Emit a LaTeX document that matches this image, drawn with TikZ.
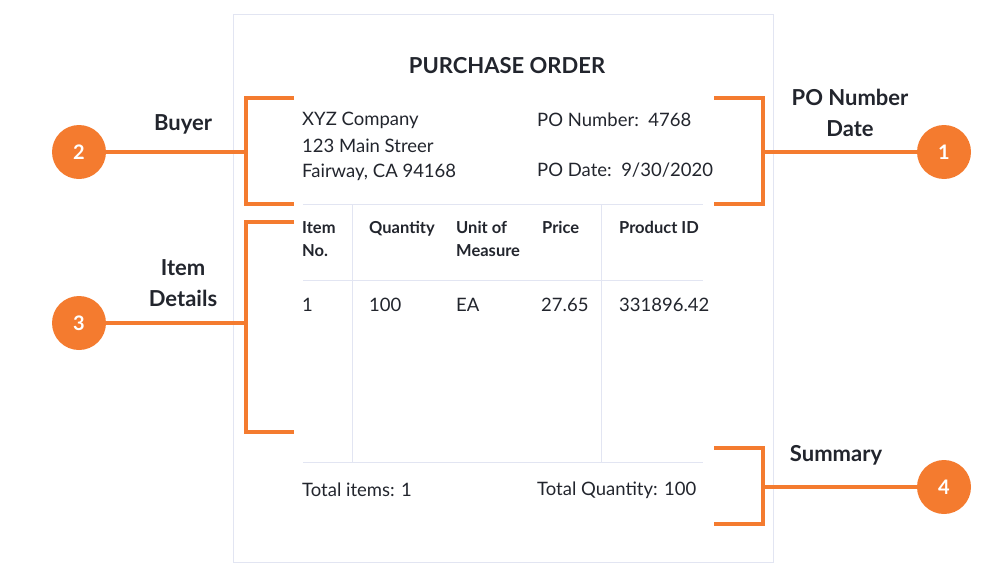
\documentclass[tikz,border=0pt]{standalone}
\usepackage{fontspec}
\setmainfont{Lato}
\definecolor{org}{HTML}{F47B2F}
\definecolor{pg}{HTML}{E2E5F2}
\definecolor{txt}{HTML}{22252D}
\begin{document}
\begin{tikzpicture}[x=1pt,y=-1pt,
  t/.style={anchor=west,inner sep=0pt,text=txt,font=\fontsize{18.5}{23}\selectfont},
  hd/.style={anchor=north west,inner sep=0pt,text=txt,align=left,font=\fontsize{16.5}{23}\selectfont\bfseries},
  lab/.style={inner sep=0pt,text=txt,align=center,font=\fontsize{22}{31}\selectfont\bfseries},
  br/.style={draw=org,line width=4pt},
  num/.style={circle,fill=org,minimum size=54pt,inner sep=0pt,text=white,font=\fontsize{20}{24}\selectfont\bfseries},
  gl/.style={draw=pg,line width=1pt}]
\useasboundingbox (0,0) rectangle (1000,570);
\draw[gl] (233,14) rectangle (773,562);
\node[inner sep=0pt,text=txt,font=\fontsize{22}{26}\selectfont\bfseries] (title) at (507,66) {PURCHASE ORDER};
\node[t] (b1) at (302,120) {XYZ Company};
\node[t] (b2) at (302,146) {123 Main Streer};
\node[t] (b3) at (302,172) {Fairway, CA 94168};
\node[t] (pn) at (537,120) {PO Number:\ \ 4768};
\node[t] (pd) at (537,170) {PO Date:\ \ 9/30/2020};
\draw[gl] (303,204) -- (703,204);
\draw[gl] (303,280) -- (703,280);
\draw[gl] (303,462) -- (703,462);
\draw[gl] (352,204) -- (352,462);
\draw[gl] (601,204) -- (601,462);
\node[hd] (h1) at (302,221) {Item\\No.};
\node[hd] (h2) at (369,221) {Quantity};
\node[hd] (h3) at (456,221) {Unit of\\Measure};
\node[hd] (h4) at (542,221) {Price};
\node[hd] (h5) at (619,221) {Product ID};
\node[t] (r1) at (302,305) {1};
\node[t] (r2) at (369,305) {100};
\node[t] (r3) at (456,305) {EA};
\node[t] (r4) at (541,305) {27.65};
\node[t] (r5) at (619,305) {331896.42};
\node[t] (ti) at (302,490) {Total items: 1};
\node[t] (tq) at (537,490) {Total Quantity: 100};
% brackets
\draw[br] (294,98) -- (246,98) -- (246,204) -- (294,204);
\draw[br] (294,222) -- (246,222) -- (246,432) -- (294,432);
\draw[br] (714,98) -- (763,98) -- (763,204) -- (714,204);
\draw[br] (714,448) -- (763,448) -- (763,524) -- (714,524);
\coordinate (c2) at (246,152);
\coordinate (c3) at (246,323);
\coordinate (c1) at (763,152);
\coordinate (c4) at (763,487);
\node[num] (n2) at (79,152) {2};
\node[num] (n3) at (79,323) {3};
\node[num] (n1) at (944,152) {1};
\node[num] (n4) at (944,487) {4};
\draw[br] (n2) -- (c2);
\draw[br] (n3) -- (c3);
\draw[br] (n1) -- (c1);
\draw[br] (n4) -- (c4);
\node[lab] (l2) at (183,124) {Buyer};
\node[lab] (l3) at (183,283) {Item\\Details};
\node[lab] (l1) at (850,113) {PO Number\\Date};
\node[lab] (l4) at (836,455) {Summary};
\end{tikzpicture}
\end{document}
